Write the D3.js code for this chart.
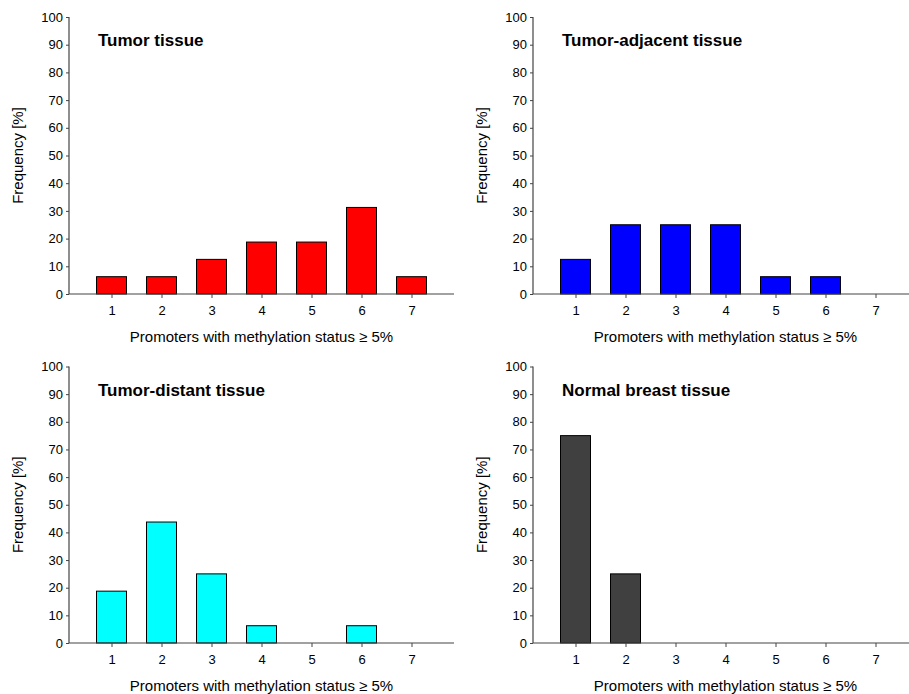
<!DOCTYPE html>
<html>
<head>
<meta charset="utf-8">
<script src="https://cdn.jsdelivr.net/npm/d3@7"></script>
<style>
  body { margin: 0; background: #fff; }
  svg { display: block; }
  text { font-family: "Liberation Sans", Arial, sans-serif; fill: #000; }
</style>
</head>
<body>
<svg id="chart" width="909" height="694"></svg>
<script>
// promoters with methylation >= 5% (number of genes)
const categories = [1, 2, 3, 4, 5, 6, 7];
const yTicks = [0, 10, 20, 30, 40, 50, 60, 70, 80, 90, 100];

const tumor = [6.25, 6.25, 12.5, 18.75, 18.75, 31.25, 6.25];
const adjacent = [12.5, 25, 25, 25, 6.25, 6.25, 0];
const distant = [18.75, 43.75, 25, 6.25, 0, 6.25, 0];
const normal = [75, 25, 0, 0, 0, 0, 0];

const titles = ["Tumor tissue", "Tumor-adjacent tissue", "Tumor-distant tissue", "Normal breast tissue"];
const colors = ["#ff0000", "#0000ff", "#00ffff", "#404040"];
const xLabel = "Promoters with methylation status \u2265 5%";
const yLabel = "Frequency [%]";

const panels = [
  { title: titles[0], values: tumor, color: colors[0], x0: 69, x1: 454, y0: 294, y1: 17 },
  { title: titles[1], values: adjacent, color: colors[1], x0: 533, x1: 909, y0: 294, y1: 17 },
  { title: titles[2], values: distant, color: colors[2], x0: 69, x1: 454, y0: 643, y1: 366.5 },
  { title: titles[3], values: normal, color: colors[3], x0: 533, x1: 909, y0: 643, y1: 366.5 }
];

const svg = d3.select("#chart");

panels.forEach(p => {
  const g = svg.append("g");
  // 1 sits ~43px in from the y axis, 50px per category
  const x = d3.scaleLinear()
    .domain([0.15, 0.15 + (p.x1 - p.x0) / 50])
    .range([p.x0, p.x1]);
  const y = d3.scaleLinear()
    .domain([0, 100])
    .range([p.y0, p.y1]);

  const barW = x(1.6) - x(1);
  const rows = categories.map((c, i) => ({ cat: c, value: p.values[i] }))
    .filter(d => d.value > 0);

  g.selectAll("rect")
    .data(rows)
    .enter()
    .append("rect")
    .attr("x", d => x(d.cat) - barW / 2)
    .attr("y", d => y(d.value))
    .attr("width", barW)
    .attr("height", d => y(0) - y(d.value))
    .attr("fill", p.color)
    .attr("stroke", "#000")
    .attr("stroke-width", 1);

  const yAxis = g.append("g")
    .attr("transform", `translate(${p.x0},0)`)
    .call(d3.axisLeft(y).tickValues(yTicks).tickSize(3).tickPadding(3));
  const xAxis = g.append("g")
    .attr("transform", `translate(0,${p.y0})`)
    .call(d3.axisBottom(x).tickValues(categories).tickSize(4).tickPadding(8).tickFormat(d3.format("d")));

  [yAxis, xAxis].forEach(a => {
    a.select(".domain").attr("stroke", "#444").attr("stroke-width", 1.2);
    a.selectAll(".tick line").attr("stroke", "#444");
    a.selectAll(".tick text")
      .style("font-family", "'Liberation Sans', Arial, sans-serif")
      .style("font-size", "13px")
      .attr("fill", "#000");
  });
  yAxis.select(".domain").attr("d", `M0,${p.y0}V${p.y1}`);
  xAxis.select(".domain").attr("d", `M${p.x0},0H${p.x1}`);

  g.append("text")
    .attr("x", p.x0 + 29)
    .attr("y", p.y1 + 29)
    .style("font-size", "17px")
    .style("font-weight", "bold")
    .text(p.title);

  g.append("text")
    .attr("transform", `translate(${p.x0 - 46},${(p.y0 + p.y1) / 2}) rotate(-90)`)
    .attr("text-anchor", "middle")
    .style("font-size", "15px")
    .text(yLabel);

  g.append("text")
    .attr("x", x(4))
    .attr("y", p.y0 + 48)
    .attr("text-anchor", "middle")
    .style("font-size", "15px")
    .text(xLabel);
});
</script>
</body>
</html>
